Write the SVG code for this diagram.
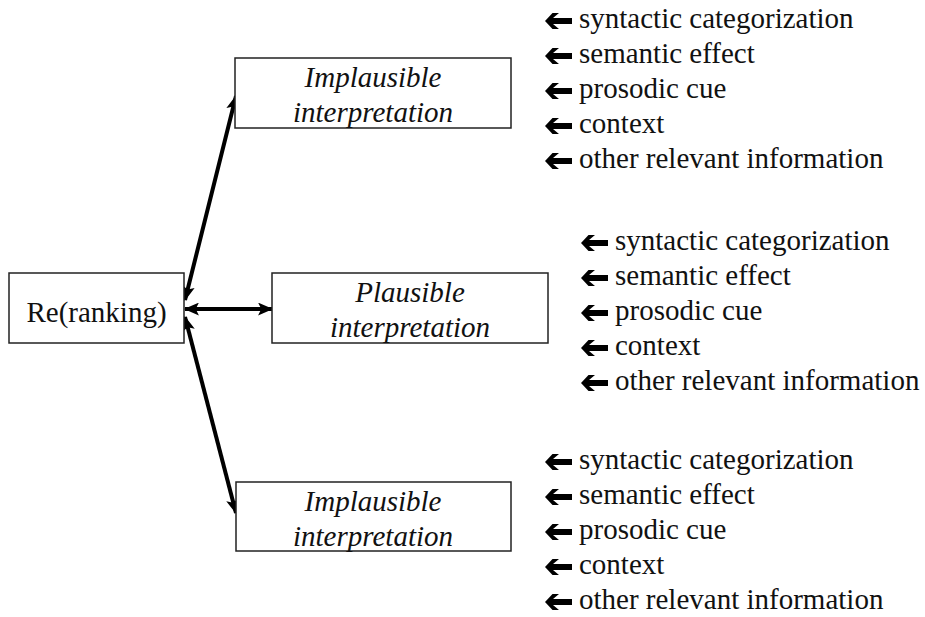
<svg xmlns="http://www.w3.org/2000/svg" width="925" height="617" viewBox="0 0 925 617" font-family="'Liberation Serif', 'Times New Roman', Times, serif" font-size="29">
  <style>
    .box { fill: #ffffff; stroke: #222222; stroke-width: 1.5; }
    text { font-family: 'Liberation Serif', 'Times New Roman', Times, serif; font-size: 29px; fill: #111111; }
    .it { font-style: italic; text-anchor: middle; }
    .mid { text-anchor: middle; }
    .conn { stroke: #000000; stroke-width: 4; fill: none; }
    .bullet { fill: #000000; }
  </style>
  <defs>
    <marker id="head" viewBox="0 0 14 12" refX="13" refY="6" markerWidth="15" markerHeight="13" markerUnits="userSpaceOnUse" orient="auto-start-reverse">
      <path d="M0,0 L14,6 L0,12 L3,6 Z" fill="#000000"/>
    </marker>
    <!-- bold left-pointing arrow used as a list bullet -->
    <path id="larr" d="M0,0 L7.5,-8 L14,-8 L8,-3 L27,-3 L27,3 L8,3 L14,8 L7.5,8 Z"/>
  </defs>

  <!-- connectors -->
  <g id="connectors">
    <line class="conn" x1="185" y1="300" x2="236" y2="96" marker-start="url(#head)" marker-end="url(#head)"/>
    <line class="conn" x1="185" y1="309" x2="272" y2="309" marker-start="url(#head)" marker-end="url(#head)"/>
    <line class="conn" x1="185" y1="317" x2="236" y2="513" marker-start="url(#head)" marker-end="url(#head)"/>
  </g>

  <g id="reranking">
    <rect class="box" x="9" y="273" width="175" height="70"/>
    <text class="mid" x="96.5" y="322">Re(ranking)</text>
  </g>

  <g id="implausible-top">
    <rect class="box" x="235" y="58" width="276" height="70"/>
    <text class="it" x="373" y="87">Implausible</text>
    <text class="it" x="373" y="122">interpretation</text>
  </g>

  <g id="plausible">
    <rect class="box" x="272" y="273" width="276" height="70"/>
    <text class="it" x="410" y="302">Plausible</text>
    <text class="it" x="410" y="337">interpretation</text>
  </g>

  <g id="implausible-bottom">
    <rect class="box" x="236" y="482" width="275" height="69"/>
    <text class="it" x="373" y="511">Implausible</text>
    <text class="it" x="373" y="546">interpretation</text>
  </g>

  <!-- information sources feeding each interpretation -->
  <g id="cues-top">
    <use href="#larr" class="bullet" x="545" y="21"/>
    <use href="#larr" class="bullet" x="545" y="56"/>
    <use href="#larr" class="bullet" x="545" y="91"/>
    <use href="#larr" class="bullet" x="545" y="126"/>
    <use href="#larr" class="bullet" x="545" y="161"/>
    <text x="579" y="28">syntactic categorization</text>
    <text x="579" y="63">semantic effect</text>
    <text x="579" y="98">prosodic cue</text>
    <text x="579" y="133">context</text>
    <text x="579" y="168">other relevant information</text>
  </g>

  <g id="cues-middle">
    <use href="#larr" class="bullet" x="581" y="243"/>
    <use href="#larr" class="bullet" x="581" y="278"/>
    <use href="#larr" class="bullet" x="581" y="313"/>
    <use href="#larr" class="bullet" x="581" y="348"/>
    <use href="#larr" class="bullet" x="581" y="383"/>
    <text x="615" y="250">syntactic categorization</text>
    <text x="615" y="285">semantic effect</text>
    <text x="615" y="320">prosodic cue</text>
    <text x="615" y="355">context</text>
    <text x="615" y="390">other relevant information</text>
  </g>

  <g id="cues-bottom">
    <use href="#larr" class="bullet" x="545" y="462"/>
    <use href="#larr" class="bullet" x="545" y="497"/>
    <use href="#larr" class="bullet" x="545" y="532"/>
    <use href="#larr" class="bullet" x="545" y="567"/>
    <use href="#larr" class="bullet" x="545" y="602"/>
    <text x="579" y="469">syntactic categorization</text>
    <text x="579" y="504">semantic effect</text>
    <text x="579" y="539">prosodic cue</text>
    <text x="579" y="574">context</text>
    <text x="579" y="609">other relevant information</text>
  </g>
</svg>
